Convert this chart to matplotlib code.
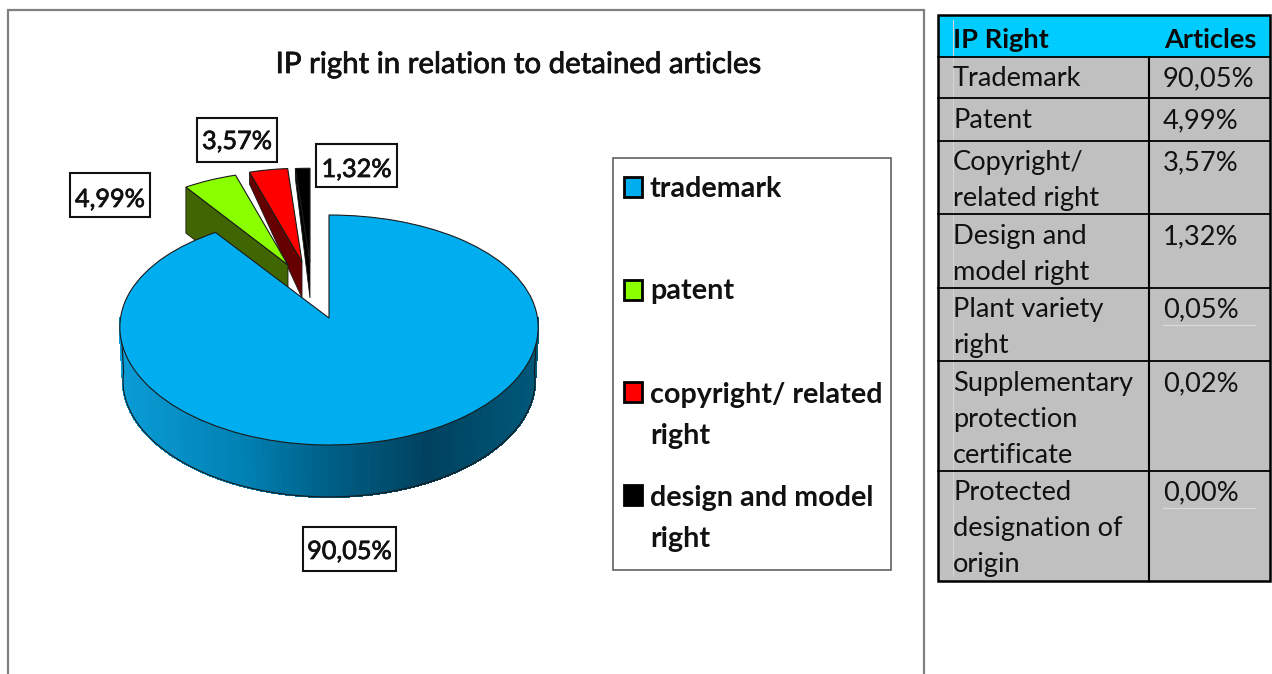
import numpy as np
import matplotlib
matplotlib.use("Agg")
import matplotlib.pyplot as plt
import matplotlib.patheffects as pe
from matplotlib.transforms import Transform
from matplotlib.patches import Rectangle, Polygon
from matplotlib.collections import PolyCollection
from matplotlib.colors import LinearSegmentedColormap

# ---- data ----
title = "IP right in relation to detained articles"
pie_values = [90.05, 4.99, 3.57, 1.32]
pie_names = ["trademark", "patent", "copyright/ related\nright", "design and model\nright"]
table_headers = ["IP Right", "Articles"]
table_names = ["Trademark", "Patent", "Copyright/\nrelated right", "Design and\nmodel right",
               "Plant variety\nright", "Supplementary\nprotection\ncertificate",
               "Protected\ndesignation of\norigin"]
table_values = [90.05, 4.99, 3.57, 1.32, 0.05, 0.02, 0.00]

# ---- styles ----
top_colors = ["#00AEEF", "#89FF00", "#FF0000", "#000000"]
side_colors = [None, "#3F6600", "#660000", "#000000"]
FONT = "Lato"
W, H = 1272, 674
thick = [pe.withStroke(linewidth=0.55, foreground="#111111")]


def pct(v):
    return f"{v:.2f}".replace(".", ",") + "%"


class Persp(Transform):
    """Unit circle -> pixel plane, tilted with a slight perspective."""
    input_dims = 2
    output_dims = 2
    is_affine = False

    def __init__(self, ox, oy, sx=1.0, sy=1.0):
        super().__init__()
        self.ox, self.oy, self.sx, self.sy = ox, oy, sx, sy

    def transform_non_affine(self, v):
        v = np.asarray(v, float)
        x, y = v[:, 0], v[:, 1]
        px = self.ox + self.sx * 208.5 * x * (1 - 0.08 * y)
        py = self.oy - self.sy * (115 * y - 12 * y * y)
        return np.column_stack([px, py])


fig = plt.figure(figsize=(W / 100, H / 100), dpi=100, facecolor="white")
ax = fig.add_axes([0, 0, 1, 1])
wedges, _ = ax.pie(pie_values, colors=top_colors, startangle=90, counterclock=False,
                   radius=1, wedgeprops=dict(edgecolor="#1a1a1a", linewidth=0.8))
ax.set_aspect("auto")
ax.set_xlim(0, W)
ax.set_ylim(H, 0)
ax.axis("off")

# placement of each slice: apex, shrink, and side depths at the outer corner / apex
slice_pos = [
    dict(ox=329, oy=318, sx=1, sy=1),
    dict(ox=288, oy=265, sx=0.90, sy=0.91),
    dict(ox=302, oy=262, sx=0.90, sy=0.91),
    dict(ox=310, oy=262, sx=0.92, sy=0.91),
]
side_depth = [None, (46, 46), (12, 36), (10, 36)]
draw_z = [10, 7, 5, 3]

for i, w in enumerate(wedges):
    tr = Persp(**slice_pos[i])
    w.set_transform(tr + ax.transData)
    w.set_zorder(draw_z[i] + 1)
    w.set_clip_on(False)
    if side_colors[i]:
        a = np.deg2rad(w.theta2)
        d1, d2 = side_depth[i]
        corner = tr.transform(np.array([[np.cos(a), np.sin(a)]]))[0]
        apex = tr.transform(np.array([[0.0, 0.0]]))[0]
        ax.add_patch(Polygon([corner, apex, apex + [0, d2], corner + [0, d1]],
                             closed=True, facecolor=side_colors[i], edgecolor="#1a1a1a",
                             linewidth=0.6, zorder=draw_z[i]))

# rim of the large slice with its horizontal shading
big = wedges[0]
tr0 = Persp(**slice_pos[0])
ang = np.deg2rad(np.linspace(180, 360, 181))
ang = ang[(ang >= np.deg2rad(big.theta1 + 360)) | (ang <= np.deg2rad(big.theta2 + 360))]
upper = tr0.transform(np.column_stack([np.cos(ang), np.sin(ang)]))
lower = tr0.transform(np.column_stack([0.985 * np.cos(ang), 0.985 * np.sin(ang)])) + [0, 54]
rim_cmap = LinearSegmentedColormap.from_list(
    "rim", [(0, "#0A9CD6"), (0.3, "#0080B2"), (0.5, "#005F86"), (0.74, "#00425F"), (1, "#005879")])
polys, cols = [], []
for k in range(len(ang) - 1):
    polys.append([upper[k], upper[k + 1], lower[k + 1], lower[k]])
    cols.append(rim_cmap((upper[k, 0] - upper[0, 0]) / (upper[-1, 0] - upper[0, 0])))
ax.add_collection(PolyCollection(polys, facecolors=cols, edgecolors=cols, linewidths=1.0,
                                 antialiaseds=False, zorder=10))
ax.plot(lower[:, 0], lower[:, 1], color="#1a1a1a", lw=0.8, zorder=10.5)
ax.plot([upper[0, 0], lower[0, 0]], [upper[0, 1], lower[0, 1]], color="#1a1a1a", lw=0.8, zorder=10.5)
ax.plot([upper[-1, 0], lower[-1, 0]], [upper[-1, 1], lower[-1, 1]], color="#1a1a1a", lw=0.8, zorder=10.5)

# chart frame (runs off the bottom of the picture)
ax.plot([8, 8, 924, 924], [H, 9.5, 9.5, H], color="#808080", lw=1.6, zorder=1, solid_joinstyle="miter")

ax.text(518, 73, title, ha="center", va="baseline", fontsize=21.2, family=FONT,
        color="#111111", zorder=20, path_effects=thick)

# value labels
label_boxes = [(303, 527, 93, 44), (70, 173, 80, 44), (197, 118, 80, 44), (316, 144, 81, 43)]
label_base = [559, 207, 149, 177]
for v, (x, y, bw, bh), b in zip(pie_values, label_boxes, label_base):
    ax.add_patch(Rectangle((x, y), bw, bh, fc="white", ec="#111111", lw=1.5, zorder=15))
    ax.text(x + bw / 2, b, pct(v), ha="center", va="baseline", fontsize=18.2, family=FONT,
            color="#111111", zorder=16, path_effects=thick)

# legend
ax.add_patch(Rectangle((613, 157.5), 278, 412, fc="white", ec="#555555", lw=1.1, zorder=2))
leg_swatch_y = [177, 280, 382, 485]
leg_base = [[197], [299], [403, 444], [506, 547]]
for name, col, sy, bases in zip(pie_names, top_colors, leg_swatch_y, leg_base):
    ax.add_patch(Rectangle((624, sy), 18, 20, fc=col, ec="#000000", lw=2, zorder=3))
    for line, b in zip(name.split("\n"), bases):
        ax.text(650, b, line, ha="left", va="baseline", fontsize=20.7, family=FONT,
                weight="bold", color="#111111", zorder=3)

# table
tx0, tx1, tdiv = 938, 1270, 1149
row_edges = [15, 56.5, 98, 141, 214, 288, 361, 471, 581]
ax.add_patch(Rectangle((tx0, row_edges[0]), tx1 - tx0, row_edges[1] - row_edges[0],
                       fc="#00CCFF", ec="none", zorder=2))
ax.add_patch(Rectangle((tx0, row_edges[1]), tx1 - tx0, row_edges[-1] - row_edges[1],
                       fc="#C0C0C0", ec="none", zorder=2))
ax.plot([952.5, 952.5], [20, 576], color="#D4D4D4", lw=0.8, zorder=2.5)
for e in row_edges[1:-1]:
    ax.plot([tx0, tx1], [e, e], color="black", lw=1.3, zorder=3)
ax.plot([tdiv, tdiv], [row_edges[1], row_edges[-1]], color="black", lw=1.5, zorder=3)
ax.add_patch(Rectangle((tx0, row_edges[0]), tx1 - tx0, row_edges[-1] - row_edges[0],
                       fc="none", ec="black", lw=1.8, zorder=4))
for y in (325, 508):
    ax.plot([1163, 1255], [y, y], color="#DADADA", lw=0.9, zorder=2.5)

ax.text(953, 48, table_headers[0], fontsize=19.6, family=FONT, weight="bold", va="baseline", color="#0a0a0a", zorder=5)
ax.text(1164, 48, table_headers[1], fontsize=19.6, family=FONT, weight="bold", va="baseline", color="#0a0a0a", zorder=5)
table_base = [[86], [128], [170, 206], [244, 280], [317, 353], [391, 427, 463], [500, 536, 572]]
for name, v, bases in zip(table_names, table_values, table_base):
    for line, b in zip(name.split("\n"), bases):
        ax.text(953, b, line, fontsize=19.6, family=FONT, va="baseline", color="#111111", zorder=5)
    ax.text(1163, bases[0], pct(v), fontsize=19.6, family=FONT, va="baseline", color="#111111", zorder=5)

fig.savefig("out.png", dpi=100, facecolor="white")
